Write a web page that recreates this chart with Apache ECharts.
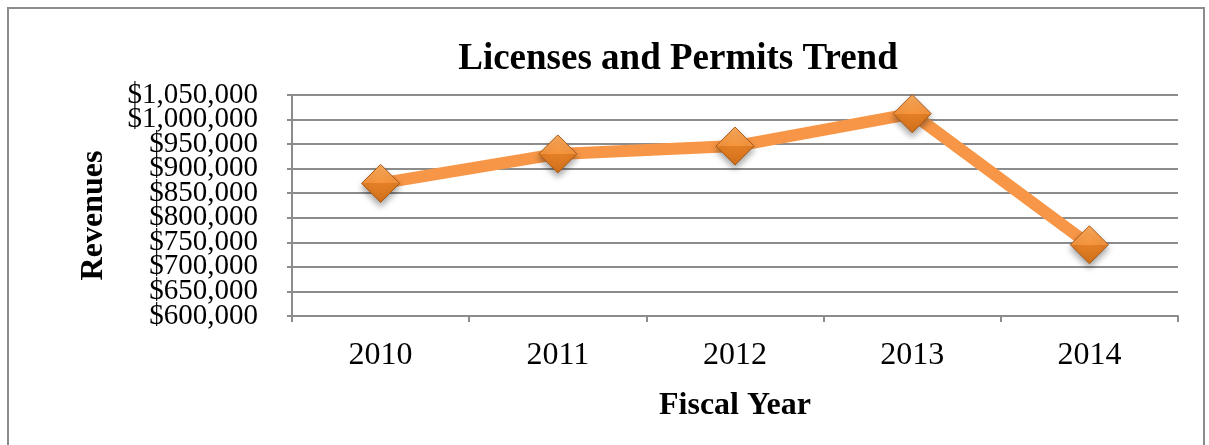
<!DOCTYPE html>
<html>
<head>
<meta charset="utf-8">
<style>
  html, body { margin: 0; padding: 0; background: #fff; }
  #wrap { position: relative; width: 1209px; height: 445px; overflow: hidden; }
  #chart { position: absolute; left: 0; top: 0; width: 1209px; height: 445px; }
  #frame { position: absolute; left: 7px; top: 7px; width: 1198px; height: 460px;
           border: 2px solid #8c8c8c; box-sizing: border-box; pointer-events: none; }
</style>
<script src="https://cdn.jsdelivr.net/npm/echarts@6/dist/echarts.min.js"></script>
</head>
<body>
<div id="wrap">
  <div id="chart"></div>
  <div id="frame"></div>
</div>
<script>
// Fiscal years and licenses & permits revenue
const years = ['2010', '2011', '2012', '2013', '2014'];
const revenues = [870000, 930000, 946000, 1012000, 745000];

// Value axis range
const yMin = 600000;
const yMax = 1050000;
const yStep = 50000;

const serif = '"Liberation Serif", "DejaVu Serif", serif';
const gridColor = '#8c8c8c';

const money = v => '$' + v.toLocaleString('en-US');
// The tick labels sit closer together than their text height, so they are
// split across two stacked left axes: one prints every other step, the other the rest.
const stepIndex = v => Math.round((v - yMin) / yStep);
const labelStyle = { fontFamily: serif, fontSize: 29, color: '#000', margin: 34, hideOverlap: false };

const chart = echarts.init(document.getElementById('chart'), null, { renderer: 'canvas' });

chart.setOption({
  animation: false,
  backgroundColor: '#ffffff',
  title: {
    text: 'Licenses and Permits Trend',
    left: 673, top: 36, textAlign: 'center',
    textStyle: { fontFamily: serif, fontWeight: 'bold', fontSize: 37, color: '#000' }
  },
  grid: { left: 292, right: 31, top: 95, bottom: 129, containLabel: false },
  xAxis: {
    type: 'category',
    data: years,
    boundaryGap: true,
    name: 'Fiscal Year',
    nameLocation: 'middle',
    nameGap: 74,
    nameTextStyle: { fontFamily: serif, fontWeight: 'bold', fontSize: 32, color: '#000' },
    axisLine: { show: true, lineStyle: { color: gridColor, width: 2 } },
    axisTick: { show: true, length: 6, lineStyle: { color: gridColor, width: 2 } },
    axisLabel: { fontFamily: serif, fontSize: 32, color: '#000', margin: 24 },
    splitLine: { show: false }
  },
  yAxis: [{
    type: 'value',
    position: 'left',
    min: yMin, max: yMax, interval: yStep,
    name: 'Revenues',
    nameLocation: 'middle',
    nameRotate: 90,
    nameGap: 182,
    nameTextStyle: {
      fontFamily: serif, fontWeight: 'bold', fontSize: 32, color: '#000',
      padding: [0, 20, 0, 0]
    },
    axisLine: { show: true, lineStyle: { color: gridColor, width: 2 } },
    axisTick: { show: true, length: 5, lineStyle: { color: gridColor, width: 2 } },
    axisLabel: Object.assign({}, labelStyle, {
      formatter: v => (stepIndex(v) % 2 === 0 ? money(v) : '')
    }),
    splitLine: { show: true, lineStyle: { color: gridColor, width: 2 } }
  }, {
    type: 'value',
    position: 'left',
    offset: 0,
    min: yMin, max: yMax, interval: yStep,
    axisLine: { show: false },
    axisTick: { show: false },
    splitLine: { show: false },
    axisLabel: Object.assign({}, labelStyle, {
      formatter: v => (stepIndex(v) % 2 === 1 ? money(v) : '')
    })
  }],
  series: [{
    type: 'line',
    data: revenues,
    yAxisIndex: 0,
    lineStyle: { color: '#f79646', width: 12 },
    symbol: 'diamond',
    symbolSize: 38,
    itemStyle: {
      color: new echarts.graphic.LinearGradient(0, 0, 0, 1, [
        { offset: 0, color: '#fbab5e' },
        { offset: 0.5, color: '#f5943c' },
        { offset: 0.5, color: '#e47f26' },
        { offset: 1, color: '#d0701c' }
      ]),
      borderColor: '#a85a18',
      borderWidth: 1,
      shadowColor: 'rgba(0,0,0,0.35)',
      shadowBlur: 6,
      shadowOffsetY: 4
    },
    z: 3
  }]
});
</script>
</body>
</html>
